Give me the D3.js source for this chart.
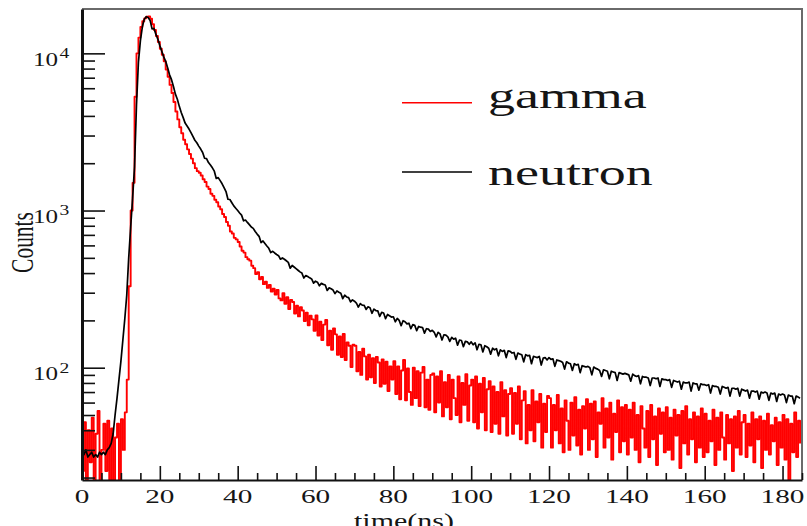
<!DOCTYPE html>
<html>
<head>
<meta charset="utf-8">
<script src="https://cdn.jsdelivr.net/npm/d3@7"></script>
<style>
  body { margin: 0; background: #ffffff; }
  svg { display: block; }
  text { font-family: "Liberation Serif", "Times New Roman", serif; fill: #151515; }
</style>
</head>
<body>
<svg id="chart" width="807" height="526"></svg>
<script>
// Histogram binning: bins start at 0 ns, 0.5 ns wide
const binStart = 0;
const binWidth = 0.5;

// Pulse-shape histograms (counts per bin), gamma and neutron events
const gammaCounts = [
  22,45,18,40,25,48,16,38,53,17,30,44,22,46,15,41,17,36,44,18,
  47,30,52,84,330,1000,1500,5300,10000,12600,14700,16000,16700,17100,17200,16600,15300,14100,12900,11800,
  10700,9800,8900,7900,7100,6300,5600,4900,4270,3800,3390,3100,2820,2640,2450,2290,2140,2000,1860,1780,
  1740,1670,1580,1520,1420,1370,1280,1240,1170,1130,1060,1020,950,910,845,800,735,715,670,655,
  630,590,555,540,505,490,480,445,430,395,405,365,378,340,352,322,336,305,318,292,
  312,276,268,298,255,281,236,270,262,221,248,212,243,231,198,224,186,214,203,172,
  215,160,196,150,188,201,139,172,130,178,163,121,158,117,164,112,145,138,101,140,
  138,95,126,90,132,118,84,121,87,115,80,117,108,76,113,79,109,71,102,84,
  110,68,102,63,96,112,62,99,70,58,100,64,95,57,93,101,56,84,54,90,
  92,52,88,60,95,49,81,56,90,47,84,64,50,88,45,80,58,91,46,77,
  84,45,88,41,79,52,86,40,73,82,39,76,44,70,38,81,49,72,37,68,
  74,38,69,44,76,35,62,71,33,58,40,72,34,61,45,68,31,59,39,66,
  64,31,58,40,67,33,55,29,62,46,30,60,37,65,32,54,28,57,41,63,
  30,59,35,61,27,52,44,64,31,55,36,60,26,51,39,62,29,56,34,58,
  28,54,36,60,30,50,25,57,41,31,53,27,58,35,49,24,55,38,52,29,
  56,30,48,26,54,37,50,23,53,33,57,28,47,35,52,25,49,31,55,27,
  51,29,46,34,54,24,48,30,52,36,26,50,33,47,22,49,31,53,28,45,
  50,27,44,32,52,25,47,35,49,23,46,30,51,28,43,34,48,24,45,31,
  50,26,47,18,44,29,52,27,46,33
];

const neutronCounts = [
  29,28,30,27,28,29,27,28,27,29,28,29,28,30,31,33,38,50,64,84,
  110,150,205,290,500,780,1200,1900,4700,8800,12000,14700,16500,17100,16900,16200,14300,14400,13200,12300,
  11200,10300,9500,8900,8100,7300,6800,6150,5500,5100,4600,4200,3900,3600,3450,3300,3130,2960,2800,2700,
  2570,2460,2340,2150,2140,2020,1950,1870,1780,1600,1620,1550,1480,1400,1320,1180,1175,1120,1070,1035,
  1000,965,935,860,870,840,813,785,770,735,708,685,625,640,617,595,575,540,550,537,
  525,516,490,499,490,479,468,430,447,437,427,417,407,400,372,386,380,373,367,345,
  355,350,332,344,339,336,310,322,318,312,296,308,302,298,275,289,282,279,262,270,
  265,258,243,256,250,249,235,244,241,222,236,231,230,212,225,223,205,218,214,210,
  211,196,206,200,185,199,196,190,192,177,188,186,172,183,181,180,166,177,176,170,
  173,168,157,168,164,150,162,161,157,147,156,152,154,139,150,149,136,147,146,141,
  146,140,144,130,141,140,126,138,136,133,122,133,130,132,119,130,127,129,116,128,
  127,124,125,113,124,122,121,109,121,119,120,106,118,117,116,118,104,115,116,112,
  116,113,114,102,112,111,110,108,98,109,107,106,96,106,104,105,93,103,102,101,
  102,100,90,101,99,98,96,88,97,96,95,85,95,94,93,83,93,92,91,92,
  91,90,82,91,89,88,89,79,88,87,87,86,77,86,86,85,86,76,85,84,
  84,83,84,75,83,82,81,82,73,81,80,80,81,71,80,79,79,72,79,78,
  78,77,78,69,77,76,76,75,68,76,75,74,75,66,74,74,73,74,66,73,
  72,71,72,64,71,71,70,71,63,70,69,70,69,62,69,68,69,61,68,67,
  68,67,60,67,66,66,59,66,65,64
];

// Axis ticks and labels
const xTicks = [0, 20, 40, 60, 80, 100, 120, 140, 160, 180];
const xMinorTicks = [5,10,15,25,30,35,45,50,55,65,70,75,85,90,95,105,110,115,125,130,135,145,150,155,165,170,175,185];
const yTicks = [100, 1000, 10000];
const yTickExponents = ["2", "3", "4"];
const yMinorTicks = [20,30,40,50,60,70,80,90,200,300,400,500,600,700,800,900,2000,3000,4000,5000,6000,7000,8000,9000];
const xTitle = "time(ns)";
const yTitle = "Counts";
const seriesNames = ["gamma", "neutron"];
const seriesColors = ["#ff0000", "#000000"];

const svg = d3.select("#chart");
const plot = { left: 82, right: 802, top: 9, bottom: 480 };

const x = d3.scaleLinear().domain([0, 185]).range([plot.left, plot.right]);
const y = d3.scaleLog().domain([19.3, 19150]).range([plot.bottom, plot.top]);

// clip region for the histogram traces
svg.append("clipPath").attr("id", "plot-clip")
  .append("rect")
  .attr("x", plot.left).attr("y", plot.top)
  .attr("width", plot.right - plot.left).attr("height", plot.bottom - plot.top);

// gamma histogram as steps (one level per bin); neutron as a polyline through the bins
const curves = [d3.curveStepAfter, d3.curveLinear];
const widths = [1.9, 1.7];

[gammaCounts, neutronCounts].forEach((counts, k) => {
  const trace = d3.line()
    .x((d, i) => x(binStart + i * binWidth))
    .y(d => y(d))
    .curve(curves[k]);
  svg.append("path")
    .datum(counts)
    .attr("d", trace)
    .attr("fill", "none")
    .attr("stroke", seriesColors[k])
    .attr("stroke-width", widths[k])
    .attr("stroke-linejoin", "round")
    .attr("clip-path", "url(#plot-clip)");
});

// top and right frame edges
svg.append("path")
  .attr("d", `M${plot.left},${plot.top}H${plot.right}V${plot.bottom}`)
  .attr("fill", "none")
  .attr("stroke", "#6a6a6a")
  .attr("stroke-width", 2);

// x axis: major and minor ticks pointing into the frame
const xAxisG = svg.append("g").attr("transform", `translate(0,${plot.bottom})`);
xAxisG.call(d3.axisBottom(x).tickValues(xTicks).tickSize(-14).tickSizeOuter(0).tickFormat(""));
const xMinorG = svg.append("g").attr("transform", `translate(0,${plot.bottom})`);
xMinorG.call(d3.axisBottom(x).tickValues(xMinorTicks).tickSize(-7).tickSizeOuter(0).tickFormat(""));
xMinorG.select(".domain").remove();
xAxisG.select(".domain").attr("stroke", "#111").attr("stroke-width", 2.2);

// y axis: log ticks pointing into the frame
const yAxisG = svg.append("g").attr("transform", `translate(${plot.left},0)`);
yAxisG.call(d3.axisLeft(y).tickValues(yTicks).tickSize(-23).tickSizeOuter(0).tickFormat(""));
const yMinorG = svg.append("g").attr("transform", `translate(${plot.left},0)`);
yMinorG.call(d3.axisLeft(y).tickValues(yMinorTicks).tickSize(-13).tickSizeOuter(0).tickFormat(""));
yMinorG.select(".domain").remove();
yAxisG.select(".domain").attr("stroke", "#111").attr("stroke-width", 3);
svg.selectAll("g.tick line").attr("stroke", "#111").attr("stroke-width", 1.6);

// x tick labels
xTicks.forEach(v => {
  svg.append("text")
    .attr("transform", `translate(${x(v)},503) scale(1.5,1)`)
    .attr("text-anchor", "middle")
    .attr("font-size", 19.5)
    .text(v);
});

// y tick labels as powers of ten
yTicks.forEach((v, i) => {
  const ty = y(v);
  svg.append("text")
    .attr("transform", `translate(58,${ty + 12.7}) scale(1.32,1)`)
    .attr("text-anchor", "end")
    .attr("font-size", 19)
    .text("10");
  svg.append("text")
    .attr("transform", `translate(59.5,${ty + 4.8}) scale(1.4,1)`)
    .attr("text-anchor", "start")
    .attr("font-size", 14)
    .text(yTickExponents[i]);
});

// axis titles
svg.append("text")
  .attr("transform", `translate(33,242.5) scale(1.5,1) rotate(-90)`)
  .attr("text-anchor", "middle")
  .attr("font-size", 21.5)
  .text(yTitle);

svg.append("text")
  .attr("transform", `translate(404,528) scale(1.5,1)`)
  .attr("text-anchor", "middle")
  .attr("font-size", 20)
  .text(xTitle);

// legend
const legendRows = [102.7, 172];
const legendBaselines = [108, 185];
seriesNames.forEach((name, k) => {
  svg.append("line")
    .attr("x1", 402).attr("x2", 472)
    .attr("y1", legendRows[k]).attr("y2", legendRows[k])
    .attr("stroke", seriesColors[k])
    .attr("stroke-width", 1.5);
  svg.append("text")
    .attr("transform", `translate(488,${legendBaselines[k]}) scale(1.52,1)`)
    .attr("font-size", 35.5)
    .text(name);
});
</script>
</body>
</html>
